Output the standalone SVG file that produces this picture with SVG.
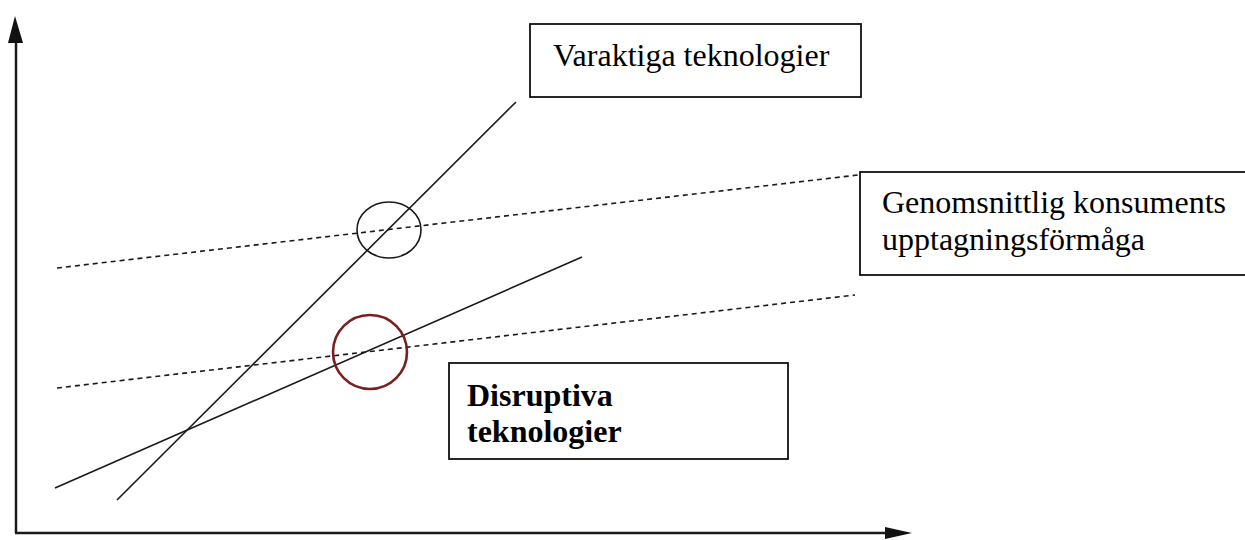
<svg xmlns="http://www.w3.org/2000/svg" width="1245" height="540" viewBox="0 0 1245 540">
<style>
.ax{stroke:#1a1a1a;stroke-width:2.5;fill:none}
.ln{stroke:#1a1a1a;stroke-width:1.6;fill:none}
.dash{stroke:#1a1a1a;stroke-width:1.6;fill:none;stroke-dasharray:5 4}
.box{fill:#fff;stroke:#111;stroke-width:1.8}
.t{font-family:"Liberation Serif","Times New Roman",serif;font-size:32px;fill:#000}
.b{font-weight:bold}
</style>
<rect width="1245" height="540" fill="#fff"/>
<g id="axes">
<line class="ax" x1="16" y1="40" x2="16" y2="533"/>
<line class="ax" x1="15" y1="533" x2="888" y2="533"/>
<polygon points="15,16 23,43 8,43" fill="#111"/>
<polygon points="912,533 885,527 885,539" fill="#111"/>
</g>
<g id="connectors">
<line class="ln" x1="117" y1="500" x2="516" y2="102"/>
<line class="ln" x1="55" y1="488" x2="582" y2="257"/>
<line class="dash" x1="57" y1="268" x2="858" y2="175"/>
<line class="dash" x1="57" y1="388" x2="855" y2="295"/>
</g>
<g id="circle-upper">
<ellipse cx="389" cy="230" rx="32" ry="28" fill="none" stroke="#1a1a1a" stroke-width="1.6"/>
</g>
<g id="circle-red">
<ellipse cx="370" cy="352" rx="37" ry="37" fill="none" stroke="#7a1f1f" stroke-width="2.6"/>
</g>
<g id="varaktiga">
<rect class="box" x="530" y="24" width="331" height="73"/>
<text class="t" x="553" y="66">Varaktiga teknologier</text>
</g>
<g id="genomsnittlig">
<rect class="box" x="860" y="172" width="400" height="103"/>
<text class="t" x="882" y="213">Genomsnittlig konsuments</text>
<text class="t" x="882" y="250">upptagningsförmåga</text>
</g>
<g id="disruptiva">
<rect class="box" x="449" y="363" width="339" height="96"/>
<text class="t b" x="467" y="406">Disruptiva</text>
<text class="t b" x="467" y="442">teknologier</text>
</g>
</svg>
